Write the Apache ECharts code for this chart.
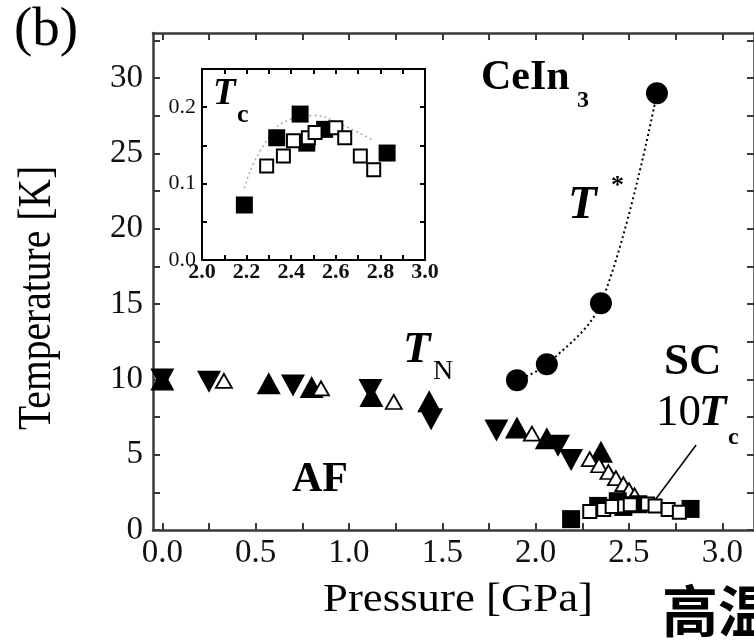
<!DOCTYPE html>
<html>
<head>
<meta charset="utf-8">
<script src="https://cdn.jsdelivr.net/npm/echarts@6/dist/echarts.min.js"></script>
<style>
  html, body { margin: 0; padding: 0; background: #fff; }
  #chart { width: 754px; height: 642px; }
</style>
</head>
<body>
<div id="chart"></div>
<script>
// CeIn3 pressure–temperature phase diagram

// T* (filled circles, dotted guide)
const tStar = [[1.90, 9.95], [2.06, 11.0], [2.35, 15.05], [2.65, 29.0]];

// Néel temperature T_N from several runs
const tnUpFilled = [[0.00, 10.0], [0.57, 9.75], [0.80, 9.5], [1.12, 8.9], [1.43, 8.55],
                    [1.90, 6.8], [2.06, 6.1], [2.35, 5.2]];
const tnDownFilled = [[0.00, 10.0], [0.25, 9.85], [0.70, 9.6], [1.115, 9.3], [1.44, 7.35],
                      [1.79, 6.6], [2.12, 5.6], [2.19, 4.65]];
const tnOpen = [[0.33, 9.9], [0.85, 9.4], [1.24, 8.5], [1.98, 6.4], [2.29, 4.7], [2.34, 4.3],
                [2.39, 3.85], [2.43, 3.45], [2.47, 3.05], [2.50, 2.65], [2.53, 2.3]];

// Superconducting Tc (K)
const tcFilled = [[2.19, 0.072], [2.335, 0.160], [2.44, 0.191], [2.47, 0.153], [2.55, 0.171], [2.83, 0.140]];
const tcOpen = [[2.29, 0.123], [2.365, 0.136], [2.41, 0.156], [2.477, 0.160], [2.507, 0.167],
                [2.60, 0.173], [2.64, 0.160], [2.71, 0.136], [2.77, 0.118]];
const tcGuide = [[2.19, 0.094], [2.27, 0.147], [2.395, 0.184], [2.51, 0.189], [2.59, 0.182], [2.76, 0.158]];

// Main panel plots SC as 10 Tc
const scScale = 10;

// Pointer from the "SC 10Tc" label to the data
const scPointer = [[2.86, 5.64], [2.64, 1.99]];

// Tick values and labels
const xTicks = [0, 0.25, 0.5, 0.75, 1.0, 1.25, 1.5, 1.75, 2.0, 2.25, 2.5, 2.75, 3.0];
const xLabels = [0, 0.5, 1.0, 1.5, 2.0, 2.5, 3.0];
const yTicks = [0, 2.5, 5, 7.5, 10, 12.5, 15, 17.5, 20, 22.5, 25, 27.5, 30, 32.5];
const yLabels = [0, 5, 10, 15, 20, 25, 30];
const insetXTicks = [2.0, 2.1, 2.2, 2.3, 2.4, 2.5, 2.6, 2.7, 2.8, 2.9, 3.0];
const insetXLabels = [2.0, 2.2, 2.4, 2.6, 2.8, 3.0];
const insetYTicks = [0, 0.05, 0.1, 0.15, 0.2, 0.25];
const insetYLabels = [0, 0.1, 0.2];

const SERIF = '"Liberation Serif", "Times New Roman", serif';
const INK = '#000';
const AXIS = '#3a3a3a';

function axis(opts) {
  const o = {
    type: 'value',
    gridIndex: opts.grid,
    position: opts.position,
    min: opts.min,
    max: opts.max,
    splitLine: { show: false },
    axisLine: { show: true, onZero: false, lineStyle: { color: opts.lineColor, width: opts.lineWidth } },
    axisTick: { show: true, inside: true, length: opts.tickLen, customValues: opts.ticks,
                lineStyle: { color: opts.lineColor, width: 2 } },
    axisLabel: { show: !!opts.labels }
  };
  if (opts.labels) {
    o.axisLabel = {
      show: true,
      customValues: opts.labels,
      formatter: opts.formatter,
      fontFamily: SERIF,
      fontSize: opts.fontSize,
      fontWeight: opts.fontWeight || 'normal',
      color: '#111',
      margin: opts.margin
    };
  }
  return o;
}

const chart = echarts.init(document.getElementById('chart'), null, { renderer: 'canvas' });

const fmt1 = v => Number(v).toFixed(1);
const fmt0 = v => String(Math.round(v));

const solid = { color: INK, opacity: 1 };
const hollow = { color: '#fff', borderColor: INK, borderWidth: 2, opacity: 1 };

const option = {
  animation: false,
  backgroundColor: '#fff',
  grid: [
    { left: 153, top: 33, width: 605, height: 497, containLabel: false },
    { left: 202, top: 69, width: 223, height: 191, containLabel: false, show: true,
      backgroundColor: '#fff', borderWidth: 0, z: 3 }
  ],
  xAxis: [
    axis({ grid: 0, position: 'bottom', min: -0.05, max: 3.17, ticks: xTicks, labels: xLabels,
           formatter: fmt1, fontSize: 33, margin: 7, tickLen: 7, lineColor: AXIS, lineWidth: 2.5 }),
    axis({ grid: 0, position: 'top', min: -0.05, max: 3.17, ticks: xTicks,
           tickLen: 7, lineColor: AXIS, lineWidth: 2.5 }),
    Object.assign(axis({ grid: 1, position: 'bottom', min: 2.0, max: 3.0, ticks: insetXTicks, labels: insetXLabels,
           formatter: fmt1, fontSize: 22, fontWeight: 'bold', margin: 1, tickLen: 5, lineColor: INK, lineWidth: 2 }), { z: 4 }),
    Object.assign(axis({ grid: 1, position: 'top', min: 2.0, max: 3.0, ticks: insetXTicks,
           tickLen: 5, lineColor: INK, lineWidth: 2 }), { z: 4 })
  ],
  yAxis: [
    axis({ grid: 0, position: 'left', min: 0, max: 33, ticks: yTicks, labels: yLabels,
           formatter: fmt0, fontSize: 33, margin: 10, tickLen: 7, lineColor: AXIS, lineWidth: 2.5 }),
    axis({ grid: 0, position: 'right', min: 0, max: 33, ticks: yTicks,
           tickLen: 7, lineColor: AXIS, lineWidth: 2.5 }),
    Object.assign(axis({ grid: 1, position: 'left', min: 0, max: 0.25, ticks: insetYTicks, labels: insetYLabels,
           formatter: fmt1, fontSize: 22, margin: 6, tickLen: 5, lineColor: INK, lineWidth: 2 }), { z: 4 }),
    Object.assign(axis({ grid: 1, position: 'right', min: 0, max: 0.25, ticks: insetYTicks,
           tickLen: 5, lineColor: INK, lineWidth: 2 }), { z: 4 })
  ],
  series: [
    {
      name: 'T*', type: 'line', xAxisIndex: 0, yAxisIndex: 0, data: tStar,
      smooth: 0.35, symbol: 'circle', symbolSize: 22,
      itemStyle: solid,
      lineStyle: { color: INK, width: 2, type: [2, 3] },
      z: 2
    },
    {
      name: 'T_N down', type: 'scatter', xAxisIndex: 0, yAxisIndex: 0, data: tnDownFilled,
      symbol: 'triangle', symbolRotate: 180, symbolSize: [24, 22],
      itemStyle: solid, z: 2
    },
    {
      name: 'T_N up', type: 'scatter', xAxisIndex: 0, yAxisIndex: 0, data: tnUpFilled,
      symbol: 'triangle', symbolSize: [24, 22],
      itemStyle: solid, z: 2
    },
    {
      name: 'T_N open', type: 'scatter', xAxisIndex: 0, yAxisIndex: 0, data: tnOpen,
      symbol: 'triangle', symbolSize: [16, 14],
      itemStyle: Object.assign({}, hollow, { borderWidth: 1.8 }), z: 2
    },
    {
      name: 'SC pointer', type: 'line', xAxisIndex: 0, yAxisIndex: 0, data: scPointer,
      symbol: 'none', lineStyle: { color: INK, width: 1.5 }, z: 2
    },
    {
      name: '10Tc filled', type: 'scatter', xAxisIndex: 0, yAxisIndex: 0,
      data: tcFilled.map(([p, t]) => [p, t * scScale]),
      symbol: 'rect', symbolSize: 18, itemStyle: solid, z: 2
    },
    {
      name: '10Tc open', type: 'scatter', xAxisIndex: 0, yAxisIndex: 0,
      data: tcOpen.map(([p, t]) => [p, t * scScale]),
      symbol: 'rect', symbolSize: 13, itemStyle: hollow, z: 2
    },
    {
      name: 'Tc guide', type: 'line', xAxisIndex: 2, yAxisIndex: 2, data: tcGuide,
      smooth: 0.5, symbol: 'none', lineStyle: { color: '#aaa', width: 1.5, type: [2, 3] }, z: 4
    },
    {
      name: 'Tc filled', type: 'scatter', xAxisIndex: 2, yAxisIndex: 2, data: tcFilled,
      symbol: 'rect', symbolSize: 17, itemStyle: solid, z: 4
    },
    {
      name: 'Tc open', type: 'scatter', xAxisIndex: 2, yAxisIndex: 2, data: tcOpen,
      symbol: 'rect', symbolSize: 13, itemStyle: hollow, z: 4
    }
  ],
  graphic: [
    { type: 'text', x: 14, y: 31, style: { text: '(b)', font: 'normal 55px ' + SERIF, fill: INK, align: 'left', verticalAlign: 'middle' } },
    { type: 'text', x: 38, y: 298, rotation: Math.PI / 2, scaleX: 0.86,
      style: { text: 'Temperature [K]', font: 'normal 46px ' + SERIF, fill: INK, align: 'center', verticalAlign: 'middle' } },
    { type: 'text', x: 458, y: 600, scaleX: 1.12,
      style: { text: 'Pressure [GPa]', font: 'normal 40px ' + SERIF, fill: INK, align: 'center', verticalAlign: 'middle' } },
    // compound name
    { type: 'text', x: 481, y: 78, style: { text: 'CeIn', font: 'bold 42px ' + SERIF, fill: INK, align: 'left', verticalAlign: 'middle' } },
    { type: 'text', x: 577, y: 101, style: { text: '3', font: 'bold 24px ' + SERIF, fill: INK, align: 'left', verticalAlign: 'middle' } },
    // T*
    { type: 'text', x: 568, y: 206, style: { text: 'T', font: 'italic bold 47px ' + SERIF, fill: INK, align: 'left', verticalAlign: 'middle' } },
    { type: 'text', x: 611, y: 186, style: { text: '*', font: 'bold 26px ' + SERIF, fill: INK, align: 'left', verticalAlign: 'middle' } },
    // T_N
    { type: 'text', x: 403, y: 350, style: { text: 'T', font: 'italic bold 45px ' + SERIF, fill: INK, align: 'left', verticalAlign: 'middle' } },
    { type: 'text', x: 433, y: 372, style: { text: 'N', font: 'normal 28px ' + SERIF, fill: INK, align: 'left', verticalAlign: 'middle' } },
    // AF region
    { type: 'text', x: 320, y: 480, style: { text: 'AF', font: 'bold 42px ' + SERIF, fill: INK, align: 'center', verticalAlign: 'middle' } },
    // SC 10Tc
    { type: 'text', x: 664, y: 362, style: { text: 'SC', font: 'bold 45px ' + SERIF, fill: INK, align: 'left', verticalAlign: 'middle' } },
    { type: 'text', x: 656, y: 413, style: { text: '10', font: 'normal 45px ' + SERIF, fill: INK, align: 'left', verticalAlign: 'middle' } },
    { type: 'text', x: 699, y: 413, style: { text: 'T', font: 'italic bold 45px ' + SERIF, fill: INK, align: 'left', verticalAlign: 'middle' } },
    { type: 'text', x: 728, y: 438, style: { text: 'c', font: 'bold 24px ' + SERIF, fill: INK, align: 'left', verticalAlign: 'middle' } },
    // inset Tc label
    { type: 'text', x: 213, y: 94, z: 10, style: { text: 'T', font: 'italic bold 37px ' + SERIF, fill: INK, align: 'left', verticalAlign: 'middle' } },
    { type: 'text', x: 237, y: 115, z: 10, style: { text: 'c', font: 'bold 26px ' + SERIF, fill: INK, align: 'left', verticalAlign: 'middle' } },
    // heading text at lower right
    { type: 'text', x: 662, y: 611, style: { text: '高温', font: 'bold 56px "Noto Sans CJK SC", sans-serif', fill: '#000', align: 'left', verticalAlign: 'middle' } }
  ]
};

chart.setOption(option);
</script>
</body>
</html>
